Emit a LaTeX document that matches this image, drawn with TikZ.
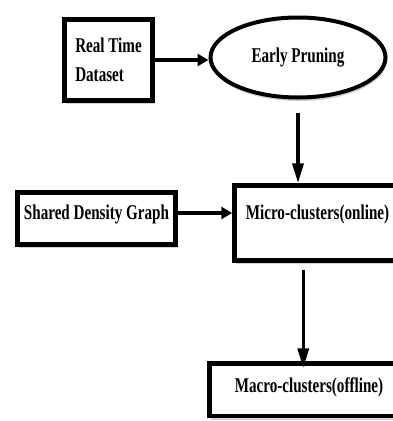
\documentclass[tikz,border=0pt]{standalone}
\usepackage{fontspec}
\newfontfamily\diafont{Liberation Serif}[FakeStretch=0.72]
\usetikzlibrary{arrows.meta,shapes.geometric,shadows}
\begin{document}
\begin{tikzpicture}[x=1pt,y=-1pt,
  txt/.style={font=\diafont\bfseries\fontsize{21}{29}\selectfont},
  shad/.style={drop shadow={shadow xshift=1pt,shadow yshift=-3.5pt,fill=black!35}},
  box/.style={rectangle,draw=black,line width=4.5pt,fill=white,inner sep=0pt,txt,shad},
  ell/.style={ellipse,draw=black,line width=4pt,fill=white,inner sep=0pt,txt,shad},
  arrA/.style={line width=4.5pt,-{Triangle[length=11pt,width=12pt]}},
  arrV/.style={line width=3.5pt,-{Triangle[length=20pt,width=11pt]}}]
\useasboundingbox (0,0) rectangle (393,421);
\fill[white] (0,0) rectangle (393,421);

\node[box,minimum width=88pt,minimum height=81pt,align=left] (rt) at (108.5,60) {Real Time\\Dataset};
\node[ell,minimum width=175pt,minimum height=80pt] (ep) at (298,57.5) {Early Pruning};
\node[box,minimum width=158pt,minimum height=52pt,text height=14pt,text depth=13pt] (sdg) at (96.5,218.5) {Shared Density Graph};
\node[box,minimum width=166pt,minimum height=75pt,text height=14pt,text depth=22pt] (micro) at (317.5,223) {Micro-clusters(online)};
\node[box,minimum width=199pt,minimum height=52.5pt,text height=14pt,text depth=9pt] (macro) at (309,389.75) {Macro-clusters(offline)};

\draw[arrA] (rt.east) -- (rt.east -| ep.west);
\draw[arrV] ([yshift=-13pt]ep.south) -- (ep.south |- micro.north);
\draw[arrA] ([yshift=5.5pt]sdg.east) -- ([yshift=5.5pt]sdg.east -| micro.west);
\draw[arrV] ([xshift=71pt,yshift=-7pt]micro.south west) -- ([xshift=71pt,yshift=-7pt]micro.south west |- macro.north);
\end{tikzpicture}
\end{document}
